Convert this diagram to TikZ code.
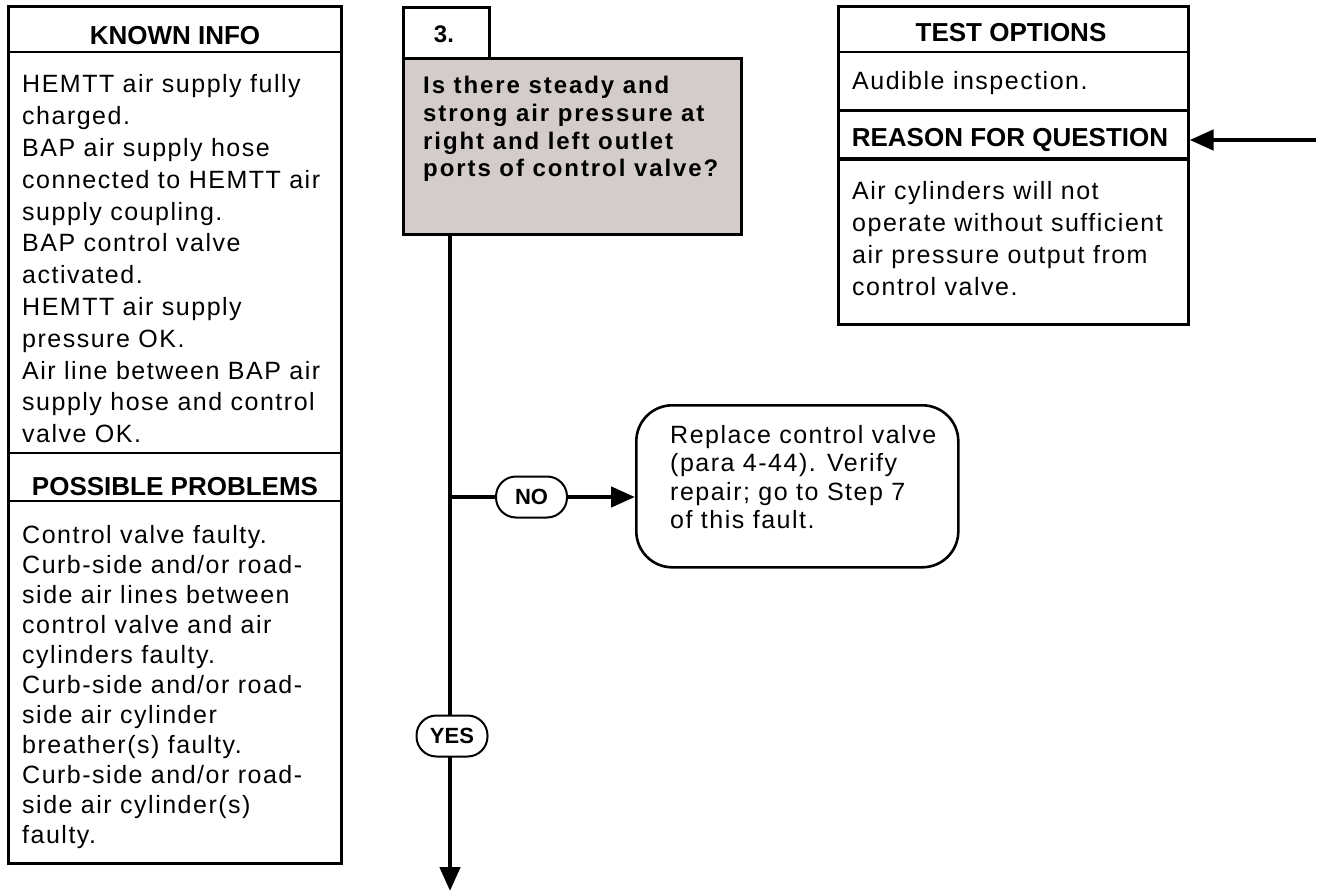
\documentclass[tikz,border=0pt]{standalone}
\usepackage{fontspec}
\setmainfont{Liberation Sans}
\newfontfamily\bodyfam{Liberation Sans}[LetterSpace=6]
\newfontfamily\qfam{Liberation Sans}[LetterSpace=8]
\usetikzlibrary{arrows.meta}
\definecolor{qgray}{RGB}{211,204,202}
\newcommand\rl[1]{\hbox{#1}}
\begin{document}
\begin{tikzpicture}[x=1pt,y=-1pt,
  frame/.style={draw=black,line width=2.6pt},
  conn/.style={line width=4.5pt,-{Triangle[length=24pt,width=20pt]}},
  plain/.style={line width=4.5pt},
  hdr/.style={inner sep=0,anchor=base,font=\fontsize{26}{30}\selectfont\bfseries},
  body/.style={inner sep=0,anchor=base west,font=\bodyfam\fontsize{25}{31.8}\selectfont},
  bodyb/.style={inner sep=0,anchor=base west,font=\bodyfam\fontsize{25}{30}\selectfont},
  qtext/.style={inner sep=0,anchor=base west,font=\qfam\fontsize{24}{27.6}\selectfont\bfseries},
  oval/.style={draw,line width=2pt,fill=white,rounded corners=20pt,minimum width=71pt,minimum height=41pt,inner sep=0,font=\fontsize{22}{24}\selectfont\bfseries}]
\useasboundingbox (0,0) rectangle (1319,893);
% ---- left column
\node[frame,anchor=north west,minimum width=333pt,minimum height=857pt,inner sep=0] (left) at (7,5) {};
\draw[frame] (7,52) -- (340,52) (7,453) -- (340,453) (7,501) -- (340,501);
\node[hdr] (kih) at (175,45) {KNOWN INFO};
\node[body] (ki) at (22,93) {\vtop{\rl{HEMTT air supply fully}\rl{charged.}\rl{BAP air supply hose}\rl{connected to HEMTT air}\rl{supply coupling.}\rl{BAP control valve}\rl{activated.}\rl{HEMTT air supply}\rl{pressure OK.}\rl{Air line between BAP air}\rl{supply hose and control}\rl{valve OK.}}};
\node[hdr] (pph) at (175,495) {POSSIBLE PROBLEMS};
\node[bodyb] (pp) at (22,543) {\vtop{\rl{Control valve faulty.}\rl{Curb-side and/or road-}\rl{side air lines between}\rl{control valve and air}\rl{cylinders faulty.}\rl{Curb-side and/or road-}\rl{side air cylinder}\rl{breather(s) faulty.}\rl{Curb-side and/or road-}\rl{side air cylinder(s)}\rl{faulty.}}};
% ---- step and question
\node[frame,anchor=north west,minimum width=86pt,minimum height=51pt,inner sep=0] (stepbox) at (402,6) {};
\node[hdr,font=\fontsize{24}{28}\selectfont\bfseries] (stepno) at (444,43) {3.};
\node[frame,fill=qgray,anchor=north west,minimum width=338pt,minimum height=176pt,inner sep=0] (q) at (402,57) {};
\node[qtext] (qt) at (423,94) {\vtop{\rl{Is there steady and}\rl{strong air pressure at}\rl{right and left outlet}\rl{ports of control valve?}}};
% ---- right column
\node[frame,anchor=north west,minimum width=350pt,minimum height=318pt,inner sep=0] (right) at (837,5) {};
\draw[frame] (837,52) -- (1187,52) (837,158) -- (1187,158);
\node[frame,anchor=north west,minimum width=350pt,minimum height=49pt,inner sep=0] (rq) at (837,109) {};
\node[hdr] (toh) at (1011,42) {TEST OPTIONS};
\node[body] (to) at (852,90) {Audible inspection.};
\node[hdr] (rqh) at (1010,147) {REASON FOR QUESTION};
\node[body] (rqt) at (852,200) {\vtop{\rl{Air cylinders will not}\rl{operate without sufficient}\rl{air pressure output from}\rl{control valve.}}};
\coordinate (rin) at (1316,140);
\draw[conn] (rin) -- (rin -| rq.east);
% ---- fix box
\node[draw,line width=2.6pt,rounded corners=36pt,anchor=north west,minimum width=322pt,minimum height=162pt,inner sep=0] (fix) at (635,404) {};
\node[body,font=\bodyfam\fontsize{25}{28.5}\selectfont] (fixt) at (670,443) {\vtop{\rl{Replace control valve}\rl{(para 4-44). Verify}\rl{repair; go to Step 7}\rl{of this fault.}}};
% ---- flow
\coordinate (qb) at (q.south -| 450,0);
\coordinate (nojn) at (450,497);
\coordinate (bot) at (450,891);
\draw[conn] (qb) -- (bot);
\node[oval] (no) at (531.5,497) {NO};
\node[oval] (yes) at (452,736) {YES};
\draw[plain] (nojn) -- (no.west);
\draw[conn] (no.east) -- (no.east -| fix.west);
\end{tikzpicture}
\end{document}
